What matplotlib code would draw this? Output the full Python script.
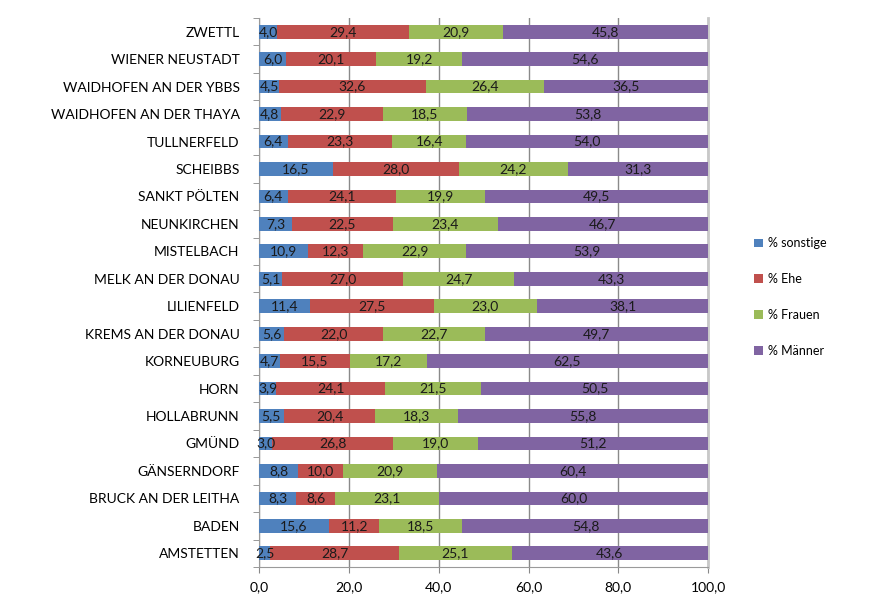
import matplotlib
matplotlib.use("Agg")
import matplotlib.pyplot as plt
import numpy as np
from matplotlib.patches import Patch

plt.rcParams['font.family'] = ['Lato', 'DejaVu Sans']

categories = ["ZWETTL", "WIENER NEUSTADT", "WAIDHOFEN AN DER YBBS", "WAIDHOFEN AN DER THAYA",
              "TULLNERFELD", "SCHEIBBS", "SANKT PÖLTEN", "NEUNKIRCHEN", "MISTELBACH",
              "MELK AN DER DONAU", "LILIENFELD", "KREMS AN DER DONAU", "KORNEUBURG", "HORN",
              "HOLLABRUNN", "GMÜND", "GÄNSERNDORF", "BRUCK AN DER LEITHA", "BADEN", "AMSTETTEN"]
sonstige = [4.0, 6.0, 4.5, 4.8, 6.4, 16.5, 6.4, 7.3, 10.9, 5.1, 11.4, 5.6, 4.7, 3.9, 5.5, 3.0, 8.8, 8.3, 15.6, 2.5]
ehe = [29.4, 20.1, 32.6, 22.9, 23.3, 28.0, 24.1, 22.5, 12.3, 27.0, 27.5, 22.0, 15.5, 24.1, 20.4, 26.8, 10.0, 8.6, 11.2, 28.7]
frauen = [20.9, 19.2, 26.4, 18.5, 16.4, 24.2, 19.9, 23.4, 22.9, 24.7, 23.0, 22.7, 17.2, 21.5, 18.3, 19.0, 20.9, 23.1, 18.5, 25.1]
maenner = [45.8, 54.6, 36.5, 53.8, 54.0, 31.3, 49.5, 46.7, 53.9, 43.3, 38.1, 49.7, 62.5, 50.5, 55.8, 51.2, 60.4, 60.0, 54.8, 43.6]
series_names = ["% sonstige", "% Ehe", "% Frauen", "% Männer"]
colors = ["#4F81BD", "#C0504D", "#9BBB59", "#8064A2"]
xticks = [0, 20, 40, 60, 80, 100]
xticklabels = ["0,0", "20,0", "40,0", "60,0", "80,0", "100,0"]

fig = plt.figure(figsize=(8.69, 6.0), dpi=100)
ax = fig.add_axes([0.298, 0.055, 0.517, 0.915])

y = np.arange(len(categories))
left = np.zeros(len(categories))
for vals, name, c in zip([sonstige, ehe, frauen, maenner], series_names, colors):
    vals = np.array(vals)
    ax.barh(y, vals, left=left, height=0.5, color=c, label=name, zorder=3)
    for yi, l, v in zip(y, left, vals):
        ax.text(l + v / 2, yi, f"{v:.1f}".replace(".", ","), ha="center", va="center",
                fontsize=10, color="#1a1a1a", zorder=4)
    left = left + vals

ax.set_ylim(len(categories) - 0.5, -0.5)
ax.set_xlim(0, 100)
ax.set_yticks(y)
ax.set_yticklabels(categories, fontsize=10)
ax.set_yticks(np.arange(-0.5, len(categories), 1), minor=True)
ax.tick_params(axis='y', which='major', length=0, pad=14)
ax.tick_params(axis='y', which='minor', length=4, color="#888888")
ax.set_xticks(xticks)
ax.set_xticklabels(xticklabels, fontsize=10)
ax.tick_params(axis='x', length=4, color="#888888", pad=6)
ax.grid(axis='x', color="#8a8a8a", linewidth=1, zorder=0)
for s in ["top"]:
    ax.spines[s].set_visible(False)
ax.spines["left"].set_color("#9a9a9a")
ax.spines["bottom"].set_color("#9a9a9a")
ax.spines["right"].set_color("#c8c8c8")
ax.spines["right"].set_linewidth(2)

handles = [Patch(facecolor=c, label=n) for c, n in zip(colors, series_names)]
fig.legend(handles=handles, loc="center left", bbox_to_anchor=(0.855, 0.505), frameon=False,
           fontsize=9, handlelength=0.7, handleheight=0.7, labelspacing=1.9, handletextpad=0.4)

fig.savefig("out.png", dpi=100)
